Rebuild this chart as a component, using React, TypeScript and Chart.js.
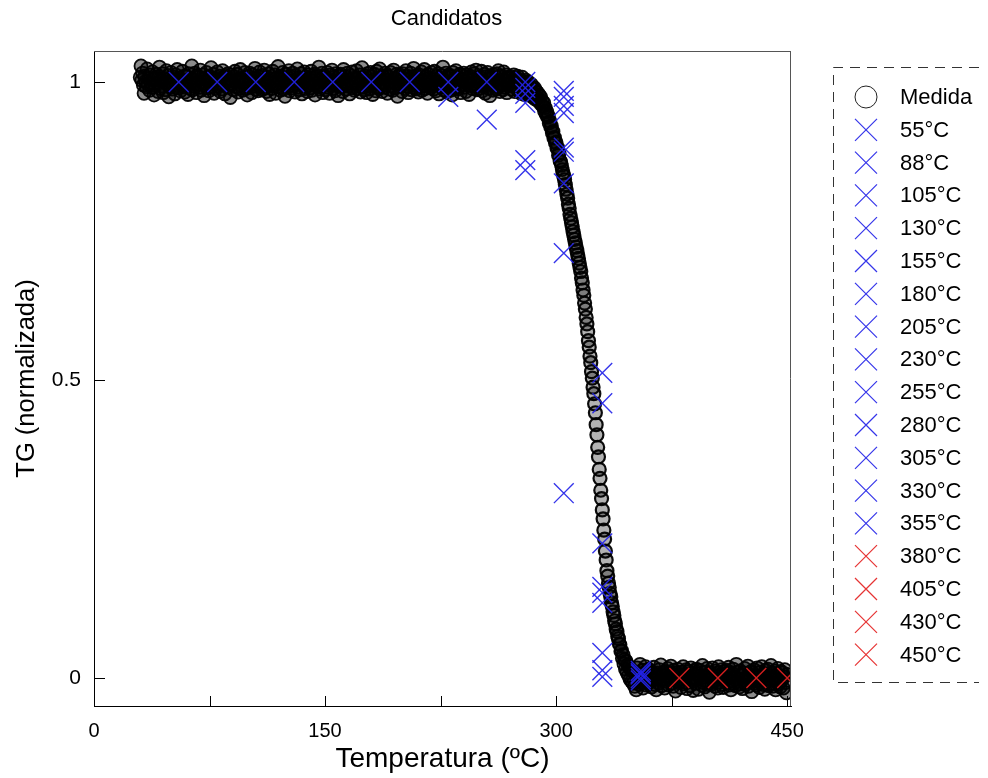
import React, { useEffect, useRef } from 'react';
import { Chart, registerables } from 'chart.js';

Chart.register(...registerables);

// ---------------- data ----------------
const chartTitle = 'Candidatos';
const xAxisTitle = 'Temperatura (ºC)';
const yAxisTitle = 'TG (normalizada)';

const xTickValues = [0, 75, 150, 225, 300, 375, 450];
const xTickLabelValues = [0, 150, 300, 450];
const yTickValues = [0, 0.5, 1];
const yTickLabels = ['0', '0.5', '1'];

// Measured TG curve ("Medida"), in thousandths of normalised mass, sampled every 0.5 °C
const medidaStepC = 0.5;
const medidaPlateauStartC = 30;
const medidaPlateauTGmilli = [
  1008, 1027, 1003, 1015, 995, 981, 1010, 1001, 992, 1022, 997, 1006, 986, 1012, 999, 991, 1017, 1004, 978, 1007,
  994, 1013, 998, 984, 1009, 1025, 989, 1002, 993, 1014, 982, 1005, 1000, 987, 1019, 996, 1011, 975, 1006, 991,
  1016, 999, 988, 1008, 1003, 980, 1012, 994, 1021, 990, 1001, 1007, 985, 1004, 997, 1018, 992, 1010, 983, 1002,
  995, 1009, 979, 1014, 1000, 989, 1006, 1027, 987, 1003, 993, 1015, 998, 982, 1011, 996, 1008, 991, 1020, 986,
  1005, 999, 1012, 977, 1007, 994, 1016, 990, 1002, 985, 1009, 997, 1024, 992, 1001, 1013, 981, 1006, 989, 1003,
  1017, 993, 998, 1010, 984, 1004, 988, 1019, 995, 1008, 980, 1011, 1000, 991, 1014, 997, 1006, 974, 1012, 996,
  1002, 987, 1009, 1018, 992, 999, 1013, 983, 1005, 990, 1021, 994, 1003, 986, 1007, 998, 1016, 989, 1001, 978,
  1010, 995, 1015, 991, 1004, 982, 1012, 997, 993, 1023, 988, 1006, 999, 985, 1009, 1017, 992, 1002, 987, 1011,
  996, 1020, 990, 1003, 984, 1008, 994, 1014, 979, 1005, 1001, 989, 1018, 998, 993, 1012, 981, 1007, 997, 1026,
  991, 1004, 986, 1010, 999, 1016, 988, 1006, 976, 1013, 995, 1002, 992, 1019, 985, 1009, 1000, 990, 1015, 994,
  1003, 983, 1011, 996, 1022, 991, 1007, 987, 1001, 1014, 980, 1005, 998, 1017, 989, 1008, 994, 984, 1012, 999,
  1006, 990, 1018, 986, 1002, 995, 1013, 978, 1009, 997, 1011, 992, 1025, 988, 1004, 993, 1015, 982, 1001, 1010,
  987, 1007, 998, 1016, 991, 1003, 981, 1012, 995, 1020, 999, 989, 1008, 985, 1014, 994, 1002, 977, 1010, 996,
  1013, 992, 1005, 984, 1021, 997, 1009, 988, 1000, 1015, 993, 1004, 980, 1011, 998, 1017, 990, 1006, 986, 1003,
  999, 1019, 989, 1007, 995, 1012, 983, 1002, 1024, 991, 1006, 987, 1010, 996, 982, 1014, 994, 1001, 988, 1016,
  993, 1009, 979, 1004, 1013, 998, 985, 1018, 992, 1005, 989, 1022, 997, 1007, 984, 1010, 999, 991, 1015, 995,
  1011, 981, 1003, 1008, 988, 1016, 994, 1001, 986, 1020, 990, 1005, 998, 1013, 976, 1009, 996, 1012, 992, 1002,
  984, 1014, 997, 1006, 989, 1019, 993, 1010, 982, 1004, 999, 1015, 987, 1008, 995, 1023, 991, 1002, 988, 1011,
  998, 983, 1012, 1005, 992, 1017, 986, 1003, 994, 1021, 989, 1009, 1000, 981, 1013, 996, 1007, 990, 1016, 993,
  1004, 988, 1018, 997, 985, 1010, 999, 1014, 980, 1006, 992, 1011, 995, 1025, 987, 1002, 991, 1015, 983, 1007,
  994, 1012, 998, 986, 1009, 978, 1016, 996, 1005, 990, 1019, 999, 988, 1008, 993, 1013, 982, 1003, 1011, 995,
  1015, 991, 1001, 984, 1012, 997, 1007, 979, 1010, 994, 1017, 989, 1004, 998, 1014, 992, 1020, 987, 1006, 999,
  989, 1008, 996, 1018, 985, 1002, 993, 1013, 981, 1009, 997, 1016, 990, 1005, 977, 1011, 999, 1007, 986, 1012,
  995, 1003, 988, 1014, 992, 1019, 998, 984, 1010, 994, 1004, 987, 1017, 991, 1001, 1012, 982, 1008, 996, 1006,
  997,
];
const medidaDropStartC = 270.5;
const medidaDropTGmilli = [
  1009, 988, 1003, 993, 1012, 984, 1001, 1007, 990, 1010, 985, 999, 1004, 981, 996, 1008, 987, 1001, 979, 997,
  1003, 983, 994, 1000, 978, 992, 984, 996, 975, 989, 980, 990, 971, 985, 974, 982, 968, 978, 966, 975,
  962, 968, 959, 965, 951, 957, 946, 950, 941, 943, 931, 934, 924, 926, 915, 917, 906, 907, 898, 899,
  889, 890, 877, 881, 868, 866, 860, 853, 847, 842, 836, 828, 820, 812, 805, 795, 788, 778, 771, 764,
  757, 749, 743, 736, 730, 723, 717, 710, 704, 696, 689, 682, 671, 663, 651, 642, 629, 619, 605, 594,
  581, 566, 555, 540, 529, 514, 503, 488, 477, 460, 445, 425, 408, 387, 371, 350, 335, 315, 301, 282,
  267, 248, 233, 213, 198, 180, 171, 159, 152, 142, 136, 126, 120, 111, 105, 96, 91, 82, 78, 70,
  66, 57, 56, 45, 46, 33, 39, 24, 31, 15, 28, 9, 22, 4, 19, -2, 14, -6, 12, -9,
  11, -14, 6, -20, 17, -5, 2, -11, 23, -8, -1, 13, -17, 8, -4, 19, -12, 3, -9, 15,
];
const medidaResidueStartC = 360.5;
const medidaResidueTGmilli = [
  -7, 12, 3, -15, 9, -2, 18, -11, 5, -20, 8, 1, -9, 14, -4, 22, -13, 6, -1, 10,
  -17, 4, 11, -6, 16, -12, 2, -3, 20, -9, 7, -14, 13, -1, -22, 9, -5, 15, -8, 3,
  6, -16, 10, -2, 19, -10, 1, -7, 14, -18, 5, 11, -4, -13, 17, -6, 8, -21, 2, 12,
  -9, 15, -3, 7, -19, 13, -1, 4, -12, 21, -8, 2, -15, 10, -5, 16, -11, 6, -24, 9,
  1, -10, 17, -6, 3, -14, 12, -2, 8, -17, 19, -7, 5, -11, 14, -3, -16, 11, -4, 7,
  13, -8, -1, 18, -12, 4, -20, 9, -5, 15, -9, 2, -13, 23, -6, 10, -2, -15, 12, -10,
  5, -18, 8, -3, 16, -11, 1, -7, 20, -14, 6, -1, 11, -23, 9, -4, 14, -9, 3, -12,
  17, -5, 2, -16, 10, -8, 19, -2, -11, 7, -19, 13, 0, -6, 15, -13, 4, -9, 21, -3,
  -14, 8, -1, 12, -20, 5, -7, 16, -10, 3, -15, 11, -4, 9, -17, 2, 14, -8, -25, 6,
];

// Candidate temperatures and the TG values predicted for each
const candidateLabels = [
  '55°C', '88°C', '105°C', '130°C', '155°C', '180°C', '205°C', '230°C', '255°C',
  '280°C', '305°C', '330°C', '355°C', '380°C', '405°C', '430°C', '450°C',
];
const candidateTemps = [55, 80, 105, 130, 155, 180, 205, 230, 255, 280, 305, 330, 355, 380, 405, 430, 450];
const candidateTG = [
  [1.0],
  [1.0],
  [1.0],
  [1.0],
  [1.0],
  [1.0],
  [1.0],
  [1.0, 0.975],
  [1.0, 0.937],
  [1.0, 0.99, 0.98, 0.965, 0.869, 0.852],
  [0.985, 0.975, 0.96, 0.948, 0.89, 0.883, 0.83, 0.713, 0.31],
  [0.512, 0.461, 0.226, 0.153, 0.143, 0.126, 0.042, 0.013, 0.002],
  [0.012, 0.006, 0.0, -0.004, 0.008],
  [0.0],
  [0.0],
  [0.0],
  [0.0],
];
const candidateGroup = ['b', 'b', 'b', 'b', 'b', 'b', 'b', 'b', 'b', 'b', 'b', 'b', 'b', 'r', 'r', 'r', 'r'];

// ---------------- style ----------------
const FONT = '"Liberation Sans", Arial, Helvetica, sans-serif';
const BLUE = 'rgba(36, 36, 232, 0.92)';
const RED = 'rgba(228, 34, 34, 0.92)';

const decorPlugin = {
  id: 'decor',
  afterDraw(chart: any) {
    const { ctx, chartArea: a, scales } = chart;
    ctx.save();
    // top / right frame
    ctx.strokeStyle = '#555';
    ctx.lineWidth = 1;
    ctx.beginPath();
    ctx.moveTo(a.left, a.top + 0.5);
    ctx.lineTo(a.right, a.top + 0.5);
    ctx.moveTo(a.right - 0.5, a.top);
    ctx.lineTo(a.right - 0.5, a.bottom);
    ctx.stroke();
    // inward ticks
    ctx.strokeStyle = '#000';
    ctx.beginPath();
    for (const v of xTickValues) {
      const px = Math.round(scales.x.getPixelForValue(v)) + 0.5;
      ctx.moveTo(px, a.bottom);
      ctx.lineTo(px, a.bottom - 10);
    }
    for (const v of yTickValues) {
      const py = Math.round(scales.y.getPixelForValue(v)) + 0.5;
      ctx.moveTo(a.left, py);
      ctx.lineTo(a.left + 11, py);
    }
    ctx.stroke();
    // title
    ctx.fillStyle = '#000';
    ctx.font = `22px ${FONT}`;
    ctx.textAlign = 'center';
    ctx.textBaseline = 'middle';
    ctx.fillText(chartTitle, (a.left + a.right) / 2 + 4, 19);
    // legend
    const boxL = 833.5, boxT = 67.5, boxR = 979, boxB = 682.5;
    ctx.strokeStyle = '#333';
    ctx.lineWidth = 1;
    ctx.setLineDash([10, 7]);
    ctx.beginPath();
    ctx.moveTo(boxR, boxT);
    ctx.lineTo(boxL, boxT);
    ctx.lineTo(boxL, boxB);
    ctx.lineTo(boxR, boxB);
    ctx.stroke();
    ctx.setLineDash([]);
    const ds = chart.data.datasets;
    ctx.font = `22px ${FONT}`;
    ctx.textAlign = 'left';
    ctx.textBaseline = 'middle';
    for (let i = 0; i < ds.length; i++) {
      const y = 97 + i * 32.8;
      const mx = 866;
      if (ds[i].label === 'Medida') {
        ctx.strokeStyle = '#222';
        ctx.lineWidth = 1;
        ctx.beginPath();
        ctx.arc(mx, y, 11, 0, Math.PI * 2);
        ctx.stroke();
      } else {
        ctx.strokeStyle = ds[i].borderColor;
        ctx.lineWidth = 1.2;
        ctx.beginPath();
        ctx.moveTo(mx - 11, y - 11);
        ctx.lineTo(mx + 11, y + 11);
        ctx.moveTo(mx + 11, y - 11);
        ctx.lineTo(mx - 11, y + 11);
        ctx.stroke();
      }
      ctx.fillStyle = '#000';
      ctx.fillText(ds[i].label, 900, y + 1);
    }
    ctx.restore();
  },
};

export default function App() {
  const ref = useRef<HTMLCanvasElement>(null);

  useEffect(() => {
    document.body.style.margin = '0';
    const canvas = ref.current;
    if (!canvas) return;

    const seg = (start: number, arr: number[]) => arr.map((v, i) => ({ x: start + i * medidaStepC, y: v / 1000 }));
    const medidaPoints = [
      ...seg(medidaPlateauStartC, medidaPlateauTGmilli),
      ...seg(medidaDropStartC, medidaDropTGmilli),
      ...seg(medidaResidueStartC, medidaResidueTGmilli),
    ];

    const datasets: any[] = [
      {
        label: 'Medida',
        data: medidaPoints,
        pointStyle: 'circle',
        pointRadius: 6.5,
        borderColor: 'rgba(0,0,0,0.95)',
        // dense flat parts of the cloud read as solid black; the steep part keeps darker open rings
        backgroundColor: (c: any) => {
          const y = c.raw && typeof c.raw.y === 'number' ? c.raw.y : 0;
          return y > 0.06 && y < 0.85 ? 'rgba(0,0,0,0.3)' : 'rgba(0,0,0,0.45)';
        },
        borderWidth: (c: any) => {
          const y = c.raw && typeof c.raw.y === 'number' ? c.raw.y : 0;
          return y > 0.06 && y < 0.85 ? 2.2 : 1.8;
        },
        showLine: false,
        order: 2,
      },
    ];
    candidateLabels.forEach((label, k) => {
      const col = candidateGroup[k] === 'r' ? RED : BLUE;
      datasets.push({
        label,
        data: candidateTG[k].map((y) => ({ x: candidateTemps[k], y })),
        pointStyle: 'crossRot',
        pointRadius: 14,
        borderWidth: 1.4,
        borderColor: col,
        backgroundColor: col,
        showLine: false,
        order: 1,
      });
    });

    Chart.defaults.font.family = FONT;
    const chart = new Chart(canvas, {
      type: 'scatter',
      data: { datasets },
      plugins: [decorPlugin],
      options: {
        animation: false,
        responsive: true,
        maintainAspectRatio: false,
        events: [],
        layout: { padding: { top: 51, right: 197, bottom: 0, left: 0 } },
        plugins: {
          legend: { display: false },
          title: { display: false },
          tooltip: { enabled: false },
        },
        scales: {
          x: {
            type: 'linear',
            min: 0,
            max: 452.5,
            afterBuildTicks: (s: any) => {
              s.ticks = xTickValues.map((v) => ({ value: v }));
            },
            afterFit: (s: any) => {
              s.height = 72;
            },
            ticks: {
              autoSkip: false,
              maxRotation: 0,
              padding: 13,
              color: '#000',
              font: { size: 20, family: FONT },
              callback: (v: any) => (xTickLabelValues.includes(Number(v)) ? String(v) : ''),
            },
            grid: { display: true, drawOnChartArea: false, drawTicks: false },
            border: { display: true, color: '#000', width: 1 },
            title: {
              display: true,
              text: xAxisTitle,
              color: '#000',
              font: { size: 28, family: FONT },
              padding: { top: 0, bottom: 2 },
            },
          },
          y: {
            type: 'linear',
            min: -0.047,
            max: 1.052,
            afterBuildTicks: (s: any) => {
              s.ticks = yTickValues.map((v) => ({ value: v }));
            },
            afterFit: (s: any) => {
              s.width = 94;
            },
            ticks: {
              autoSkip: false,
              padding: 13,
              color: '#000',
              font: { size: 21, family: FONT },
              callback: (v: any) => {
                const i = yTickValues.indexOf(Number(v));
                return i >= 0 ? yTickLabels[i] : '';
              },
            },
            grid: { display: true, drawOnChartArea: false, drawTicks: false },
            border: { display: true, color: '#000', width: 1 },
            title: {
              display: true,
              text: yAxisTitle,
              color: '#000',
              font: { size: 25.5, family: FONT },
              padding: { top: 12, bottom: 0 },
            },
          },
        },
      },
    });
    return () => chart.destroy();
  }, []);

  return (
    <div style={{ width: 988, height: 778, position: 'relative' }}>
      <canvas ref={ref} />
    </div>
  );
}
